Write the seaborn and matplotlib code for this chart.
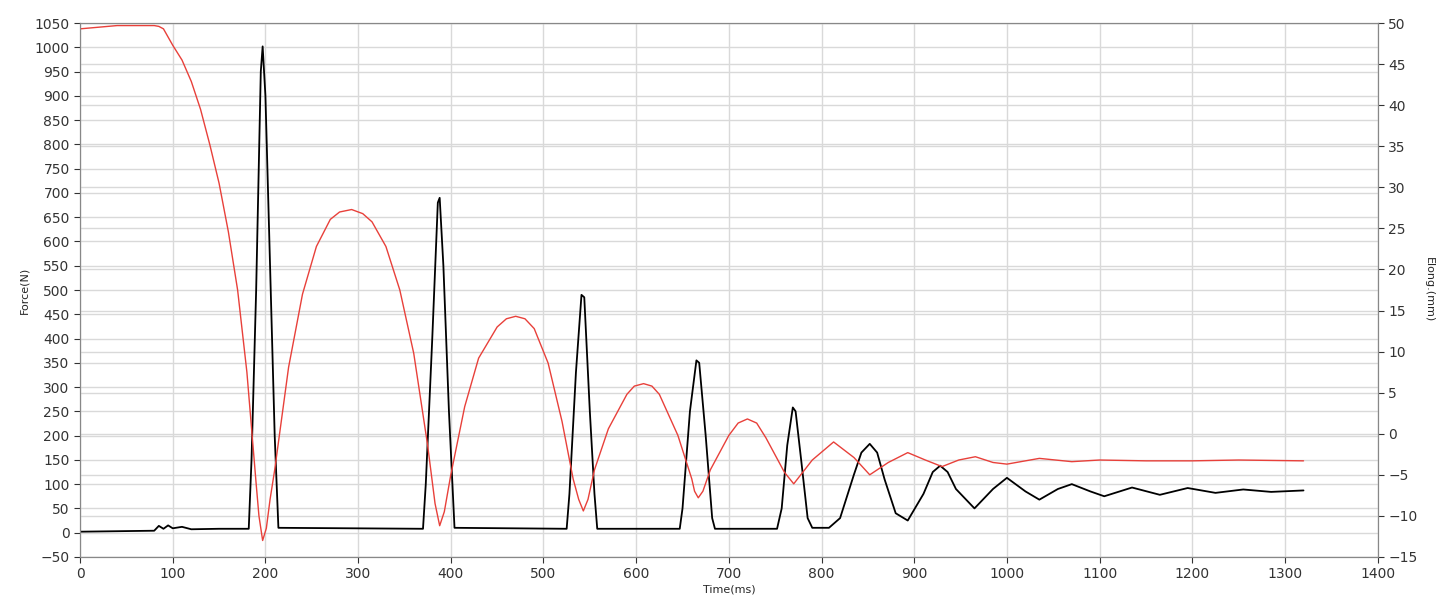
import numpy as np
import pandas as pd
import matplotlib
matplotlib.use("Agg")
import matplotlib.pyplot as plt
import seaborn as sns

# Elongation (mm), right axis, red
elong_t = [0, 20, 40, 60, 80, 85, 90, 100, 110, 120, 130, 140, 150, 160, 170, 180, 190, 193, 197, 201, 205,
           210, 225, 240, 255, 270, 280, 293, 305, 315, 330, 345, 360, 375, 383, 388, 393,
           400, 415, 430, 450, 460, 470, 480, 490, 505, 520, 532, 538, 543, 548,
           555, 570, 590, 598, 608, 617, 625, 645, 660, 663, 667, 672,
           680, 700, 710, 720, 730, 740, 760, 770,
           790, 813, 835, 852, 872, 893, 912, 930, 948, 966, 985, 1000,
           1035, 1070, 1100, 1150, 1200, 1250, 1320]
elong_mm = [49.3, 49.5, 49.7, 49.7, 49.7, 49.6, 49.3, 47.3, 45.5, 42.9, 39.5, 35.2, 30.5, 24.6, 17.5, 7.5, -6.1, -10.0, -13.0, -11.5, -8.0,
            -4.4, 8.1, 17.0, 22.8, 26.1, 27.0, 27.3, 26.8, 25.8, 22.8, 17.5, 9.8, -1.4, -8.5, -11.2, -9.5,
            -5.0, 3.3, 9.2, 13.0, 14.0, 14.3, 14.0, 12.8, 8.6, 1.5, -5.5, -8.0, -9.4, -8.0,
            -4.4, 0.6, 4.8, 5.8, 6.1, 5.8, 4.8, -0.2, -5.5, -7.0, -7.8, -7.0,
            -4.4, -0.2, 1.3, 1.8, 1.3, -0.5, -4.7, -6.1,
            -3.2, -1.0, -2.9, -5.0, -3.5, -2.3, -3.2, -4.0, -3.2, -2.8, -3.5, -3.7,
            -3.0, -3.4, -3.2, -3.3, -3.3, -3.2, -3.3]

# Force (N), left axis, black
force_t = [0, 40, 80, 85, 90, 95, 100, 110, 120, 150, 182, 185, 190, 195, 197, 200, 205, 210, 214,
           370, 373, 380, 386, 388, 392, 398, 404,
           525, 528, 535, 541, 544, 550, 555, 558,
           647, 650, 658, 665, 668, 675, 682, 685,
           752, 757, 763, 769, 772, 778, 785, 790,
           808, 820, 835, 843, 852, 860, 868, 880, 893, 910, 920, 928, 936, 945, 965, 985, 1000,
           1020, 1035, 1055, 1070, 1090, 1105, 1135, 1165, 1195, 1225, 1255, 1285, 1320]
force_n = [2, 3, 4, 14, 8, 15, 9, 12, 7, 8, 8, 150, 500, 950, 1002, 900, 550, 200, 10,
           8, 100, 400, 680, 690, 550, 250, 10,
           8, 80, 330, 490, 485, 250, 80, 8,
           8, 50, 250, 355, 350, 200, 30, 8,
           8, 50, 180, 258, 250, 150, 30, 10,
           10, 30, 120, 165, 183, 165, 110, 40, 25, 80, 125, 138, 125, 90, 50, 90, 113,
           85, 68, 90, 100, 85, 75, 93, 78, 92, 82, 89, 84, 87]

force_lim = (-50, 1050)
elong_lim = (-15, 50)
elong_ticks = np.arange(-15, 51, 5)

force_df = pd.DataFrame({"t": force_t, "f": force_n})
elong_df = pd.DataFrame({"t": elong_t, "e": elong_mm})

sns.set_style("white")
fig = plt.figure(figsize=(14.45, 6.08), dpi=100)
ax = fig.add_axes([0.0554, 0.084, 0.898, 0.878])
ax2 = ax.twinx()

grid_c = "#d9d9d9"
ax.set_xlim(0, 1400)
ax.set_ylim(*force_lim)
ax2.set_ylim(*elong_lim)
ax.set_xticks(np.arange(0, 1401, 100))
ax.set_yticks(np.arange(-50, 1051, 50))
ax2.set_yticks(elong_ticks)
ax.grid(True, color=grid_c, lw=1, zorder=0)
ax.set_axisbelow(True)
# right-axis gridlines, drawn in the left axes so they sit under both curves
scale = (force_lim[1] - force_lim[0]) / (elong_lim[1] - elong_lim[0])
for v in elong_ticks:
    ax.axhline(force_lim[0] + (v - elong_lim[0]) * scale, color=grid_c, lw=1, zorder=0)

sns.lineplot(data=force_df, x="t", y="f", ax=ax, color="black", lw=1.3,
             sort=False, estimator=None)
sns.lineplot(data=elong_df, x="t", y="e", ax=ax2, color="#e8403a", lw=1,
             sort=False, estimator=None)

ax.set_xlabel("Time(ms)", fontsize=8, labelpad=2)
ax.set_ylabel("Force(N)", fontsize=8)
ax2.set_ylabel("Elong.(mm)", fontsize=8, rotation=270, labelpad=12)
for a in (ax, ax2):
    a.tick_params(labelsize=10, length=4, colors="#333333", direction="out")
    for s in a.spines.values():
        s.set_color("#888888")
ax.tick_params(left=True, bottom=True)
ax2.tick_params(right=True)

fig.savefig("out.png", dpi=100)
